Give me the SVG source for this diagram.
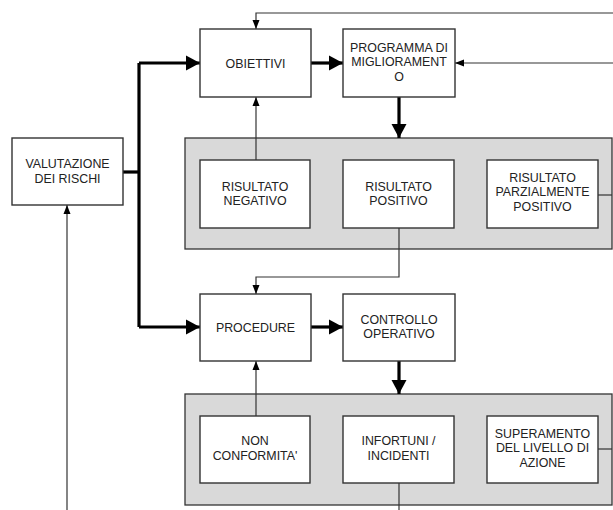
<svg xmlns="http://www.w3.org/2000/svg" width="613" height="510" viewBox="0 0 613 510">
<style>
.box{fill:#fff;stroke:#333;stroke-width:1.4}
.panel{fill:#d9d9d9;stroke:#333;stroke-width:1.3}
.thin{fill:none;stroke:#333;stroke-width:1.2}
.thick{fill:none;stroke:#000;stroke-width:3.2}
text{font-family:"Liberation Sans",Arial,sans-serif;font-size:12.4px;fill:#222;text-anchor:middle}
</style>
<defs>
<marker id="a" markerUnits="userSpaceOnUse" markerWidth="10" markerHeight="8" refX="9" refY="4" orient="auto"><path d="M0,0.5 L9,4 L0,7.5 z" fill="#000"/></marker>
<marker id="A" markerUnits="userSpaceOnUse" markerWidth="15" markerHeight="16" refX="14" refY="8" orient="auto"><path d="M0,0.5 L14,8 L0,15.5 z" fill="#000"/></marker>
</defs>
<g id="panel1"><rect class="panel" x="185" y="138" width="427" height="111"/></g>
<g id="panel2"><rect class="panel" x="185" y="394" width="427" height="111"/></g>
<g id="connectors">
<path class="thin" d="M613,13 H256 V29" marker-end="url(#a)"/>
<path class="thin" d="M613,63 H455" marker-end="url(#a)"/>
<path class="thin" d="M256,160 V97" marker-end="url(#a)"/>
<path class="thin" d="M399,228 V277 H256 V294" marker-end="url(#a)"/>
<path class="thin" d="M598,195 H612"/>
<path class="thin" d="M256,416 V361" marker-end="url(#a)"/>
<path class="thin" d="M399,483 V510"/>
<path class="thin" d="M598,449 H612"/>
<path class="thin" d="M67,510 V205" marker-end="url(#a)"/>
<path class="thick" d="M123,172 H139"/>
<path class="thick" d="M139,63 V327"/>
<path class="thick" d="M139,63 H200" marker-end="url(#A)"/>
<path class="thick" d="M139,327 H200" marker-end="url(#A)"/>
<path class="thick" d="M311,63 H343" marker-end="url(#A)"/>
<path class="thick" d="M311,327 H343" marker-end="url(#A)"/>
<path class="thick" d="M399,97 V138" marker-end="url(#A)"/>
<path class="thick" d="M399,361 V394" marker-end="url(#A)"/>
</g>
<g id="valutazione"><rect class="box" x="12" y="138" width="111" height="67"/><text x="67.5" y="167.5">VALUTAZIONE</text><text x="67.5" y="182.5">DEI RISCHI</text></g>
<g id="obiettivi"><rect class="box" x="200" y="29" width="111" height="68"/><text x="255.5" y="67.5">OBIETTIVI</text></g>
<g id="programma"><rect class="box" x="343" y="29" width="112" height="68"/><text x="399" y="51.5">PROGRAMMA DI</text><text x="399" y="66">MIGLIORAMENT</text><text x="399" y="80.5">O</text></g>
<g id="negativo"><rect class="box" x="200" y="160" width="110" height="68"/><text x="255" y="190.5">RISULTATO</text><text x="255" y="205">NEGATIVO</text></g>
<g id="positivo"><rect class="box" x="343" y="160" width="111" height="68"/><text x="398.5" y="190.5">RISULTATO</text><text x="398.5" y="205">POSITIVO</text></g>
<g id="parziale"><rect class="box" x="487" y="160" width="111" height="68"/><text x="542.5" y="181.5">RISULTATO</text><text x="542.5" y="196">PARZIALMENTE</text><text x="542.5" y="210.5">POSITIVO</text></g>
<g id="procedure"><rect class="box" x="200" y="294" width="111" height="67"/><text x="255.5" y="332">PROCEDURE</text></g>
<g id="controllo"><rect class="box" x="343" y="294" width="112" height="67"/><text x="399" y="323.5">CONTROLLO</text><text x="399" y="338">OPERATIVO</text></g>
<g id="nonconf"><rect class="box" x="200" y="416" width="110" height="67"/><text x="255" y="445">NON</text><text x="255" y="460">CONFORMITA'</text></g>
<g id="infortuni"><rect class="box" x="343" y="416" width="111" height="67"/><text x="398.5" y="445">INFORTUNI /</text><text x="398.5" y="460">INCIDENTI</text></g>
<g id="superamento"><rect class="box" x="487" y="416" width="111" height="67"/><text x="542.5" y="437.5">SUPERAMENTO</text><text x="542.5" y="452">DEL LIVELLO DI</text><text x="542.5" y="466.5">AZIONE</text></g>
</svg>
